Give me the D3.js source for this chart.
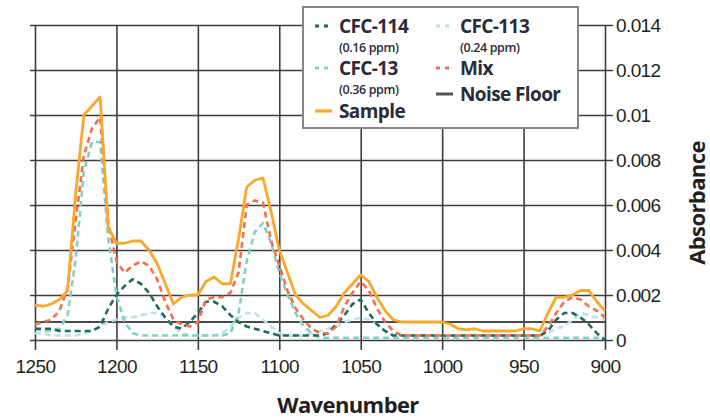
<!DOCTYPE html>
<html lang="en">
<head>
    <meta charset="UTF-8">
    <title>Absorbance vs Wavenumber</title>
    <script src="https://d3js.org/d3.v7.min.js"></script>
    <style>
        body { margin: 0; background: #fff; }
        svg { display: block; font-family: "Open Sans", sans-serif; }
        .grid line { stroke: #3d3d3d; stroke-width: 1.6px; }
        .grid path { display: none; }
        .labels path, .labels line { display: none; }
        .labels text { font-size: 19px; fill: #231f20; letter-spacing: -0.6px; }
        .legend text { fill: #2b2b3a; }
    </style>
</head>
<body>
    <svg id="chart" width="710" height="420"></svg>

    <script>
        // wavenumbers, every 5 from 1250 down to 900
        const wavenumbers = d3.range(1250, 899, -5);

        const sample = [0.00155, 0.0015, 0.0016, 0.0018, 0.0022, 0.0065, 0.0100, 0.0104, 0.0108, 0.0050,
            0.0043, 0.0043, 0.0044, 0.0044, 0.0040, 0.0034, 0.0025, 0.0016, 0.0019, 0.0020,
            0.0020, 0.0026, 0.0028, 0.0025, 0.0025, 0.0045, 0.0068, 0.0071, 0.0072, 0.0057,
            0.0040, 0.0030, 0.0020, 0.0016, 0.0013, 0.0010, 0.0011, 0.0015, 0.0021, 0.0025,
            0.0029, 0.0026, 0.0019, 0.0013, 0.0009, 0.0008, 0.0008, 0.0008, 0.0008, 0.0008,
            0.0008, 0.0007, 0.0005, 0.00045, 0.0005, 0.0004, 0.0004, 0.0004, 0.0004, 0.0004,
            0.0005, 0.0005, 0.0004, 0.0012, 0.0019, 0.0019, 0.0020, 0.0022, 0.0022, 0.0017, 0.0013];

        const mix = [0.0007, 0.0008, 0.0009, 0.0013, 0.0023, 0.0053, 0.0082, 0.0094, 0.0099, 0.0052,
            0.0035, 0.0030, 0.0033, 0.0035, 0.0033, 0.0027, 0.0017, 0.0009, 0.0007, 0.0006,
            0.0008, 0.0018, 0.0019, 0.0019, 0.0021, 0.0030, 0.0060, 0.0062, 0.0061, 0.0044,
            0.0033, 0.0022, 0.0014, 0.0009, 0.0005, 0.0003, 0.0003, 0.0006, 0.0015, 0.0021,
            0.0026, 0.0022, 0.0014, 0.0008, 0.0004, 0.0002, 0.0002, 0.0002, 0.0002, 0.0002,
            0.0002, 0.0002, 0.0002, 0.0002, 0.0002, 0.0002, 0.0002, 0.0002, 0.0002, 0.0002,
            0.0002, 0.0002, 0.0002, 0.0006, 0.0012, 0.0017, 0.0019, 0.0018, 0.0015, 0.0013, 0.0010];

        const cfc114 = [0.0005, 0.0005, 0.0005, 0.0004, 0.0004, 0.0004, 0.0004, 0.0004, 0.0006, 0.0014,
            0.0020, 0.0024, 0.0027, 0.0025, 0.0021, 0.0015, 0.0010, 0.0006, 0.0005, 0.0008,
            0.0012, 0.0017, 0.0017, 0.0015, 0.0011, 0.0008, 0.0006, 0.0005, 0.0004, 0.0003,
            0.0002, 0.0002, 0.0002, 0.0002, 0.0002, 0.0002, 0.0003, 0.0007, 0.0011, 0.0016,
            0.0018, 0.0012, 0.0007, 0.0004, 0.0002, 0.0002, 0.0002, 0.0002, 0.0002, 0.0002,
            0.0002, 0.0002, 0.0002, 0.0002, 0.0002, 0.0002, 0.0002, 0.0002, 0.0002, 0.0002,
            0.0002, 0.0002, 0.0002, 0.0004, 0.0009, 0.0012, 0.0012, 0.0010, 0.0007, 0.0003, 0.0000];

        const cfc13 = [0.0005, 0.0004, 0.0004, 0.0005, 0.0011, 0.0036, 0.0075, 0.0088, 0.0088, 0.0045,
            0.0020, 0.0008, 0.0003, 0.0002, 0.0002, 0.0002, 0.0002, 0.0002, 0.0002, 0.0002,
            0.0002, 0.0002, 0.0002, 0.0002, 0.0003, 0.0012, 0.0035, 0.0048, 0.0052, 0.0043,
            0.0030, 0.0020, 0.0012, 0.0006, 0.0003, 0.0001, 0.0001, 0.0001, 0.0001, 0.0001,
            0.0001, 0.0001, 0.0001, 0.0001, 0.0001, 0.0001, 0.0001, 0.0001, 0.0001, 0.0001,
            0.0001, 0.0001, 0.0001, 0.0001, 0.0001, 0.0001, 0.0001, 0.0001, 0.0001, 0.0001,
            0.0001, 0.0001, 0.0001, 0.0001, 0.0001, 0.0001, 0.0001, 0.0001, 0.0001, 0.0001, 0.0001];

        const cfc113 = [0.0003, 0.0003, 0.0002, 0.0002, 0.0002, 0.0002, 0.0003, 0.0004, 0.0006, 0.0008,
            0.0009, 0.0010, 0.0010, 0.0011, 0.0012, 0.0012, 0.0010, 0.0006, 0.0003, 0.0002,
            0.0002, 0.0002, 0.0002, 0.0003, 0.0006, 0.0010, 0.0012, 0.0012, 0.0009, 0.0006,
            0.0003, 0.0002, 0.0002, 0.0002, 0.0003, 0.0004, 0.0005, 0.0006, 0.0008, 0.0009,
            0.0010, 0.0009, 0.0007, 0.0004, 0.0002, 0.0002, 0.0002, 0.0002, 0.0002, 0.0002,
            0.0002, 0.0002, 0.0002, 0.0002, 0.0002, 0.0002, 0.0002, 0.0002, 0.0002, 0.0002,
            0.0002, 0.0002, 0.0002, 0.0003, 0.0005, 0.0006, 0.0009, 0.0012, 0.0011, 0.0010, 0.0009];

        const noiseFloor = 0.0008;

        const xTicks = [1250, 1200, 1150, 1100, 1050, 1000, 950, 900];
        const yTicks = [0, 0.002, 0.004, 0.006, 0.008, 0.01, 0.012, 0.014];

        const series = [
            {name: "CFC-113", sub: "(0.24 ppm)", values: cfc113, color: "#b9e2ea", dash: "6,4", w: 2.6},
            {name: "CFC-13", sub: "(0.36 ppm)", values: cfc13, color: "#80d1c5", dash: "6,4", w: 2.6},
            {name: "CFC-114", sub: "(0.16 ppm)", values: cfc114, color: "#1f6b5c", dash: "6,4", w: 2.6},
            {name: "Mix", sub: null, values: mix, color: "#f3704e", dash: "6,4", w: 2.6},
            {name: "Sample", sub: null, values: sample, color: "#f9a82b", dash: null, w: 2.8}
        ];

        const svg = d3.select("#chart");
        const plotLeft = 35, plotRight = 605, plotTop = 25, plotBottom = 340;

        const x = d3.scaleLinear().domain([1250, 900]).range([plotLeft, plotRight]);
        const y = d3.scaleLinear().domain([0, 0.014]).range([plotBottom, plotTop]);

        // horizontal grid (with small stubs both sides)
        svg.append("g")
            .attr("class", "grid")
            .attr("transform", `translate(${plotLeft - 5},0)`)
            .call(d3.axisLeft(y).tickValues(yTicks).tickSize(-(plotRight - plotLeft + 13)).tickFormat(""));

        // vertical grid (with tick stubs below)
        svg.append("g")
            .attr("class", "grid")
            .attr("transform", `translate(0,${plotBottom + 10})`)
            .call(d3.axisBottom(x).tickValues(xTicks).tickSize(-(plotBottom + 10 - plotTop)).tickFormat(""));

        // noise floor
        svg.append("line")
            .attr("x1", x(1250)).attr("x2", x(900))
            .attr("y1", y(noiseFloor)).attr("y2", y(noiseFloor))
            .attr("stroke", "#4a4a4a")
            .attr("stroke-width", 1.8);

        const line = d3.line()
            .x((d, i) => x(wavenumbers[i]))
            .y(d => y(d));

        series.forEach(s => {
            svg.append("path")
                .datum(s.values)
                .attr("fill", "none")
                .attr("stroke", s.color)
                .attr("stroke-width", s.w)
                .attr("stroke-dasharray", s.dash)
                .attr("stroke-linejoin", "round")
                .attr("d", line);
        });

        // tick labels
        svg.append("g")
            .attr("class", "labels")
            .attr("transform", `translate(${plotRight},0)`)
            .call(d3.axisRight(y).tickValues(yTicks).tickSize(0).tickPadding(11)
                .tickFormat(d => d === 0 ? "0" : String(+d.toFixed(3))));

        svg.append("g")
            .attr("class", "labels")
            .attr("transform", `translate(0,${plotBottom})`)
            .call(d3.axisBottom(x).tickValues(xTicks).tickSize(0).tickPadding(20).tickFormat(d3.format("d")));

        svg.append("text")
            .attr("x", 348)
            .attr("y", 413)
            .attr("text-anchor", "middle")
            .attr("font-size", 22)
            .attr("font-weight", "bold")
            .attr("fill", "#231f20")
            .attr("letter-spacing", -0.6)
            .text("Wavenumber");

        svg.append("text")
            .attr("transform", "translate(705,203) rotate(-90)")
            .attr("text-anchor", "middle")
            .attr("font-size", 22)
            .attr("font-weight", "bold")
            .attr("fill", "#231f20")
            .attr("letter-spacing", -0.6)
            .text("Absorbance");

        // legend
        const legend = svg.append("g").attr("class", "legend");
        legend.append("rect")
            .attr("x", 303).attr("y", 7)
            .attr("width", 275).attr("height", 121)
            .attr("fill", "#fff")
            .attr("stroke", "#858585")
            .attr("stroke-width", 2);

        const legendItems = [
            {s: series[2], lx: 315, ly: 33},
            {s: series[0], lx: 436, ly: 33},
            {s: series[1], lx: 315, ly: 75},
            {s: series[3], lx: 436, ly: 75},
            {s: {name: "Noise Floor", sub: null, color: "#555", dash: null, w: 2.6}, lx: 436, ly: 101},
            {s: series[4], lx: 315, ly: 118}
        ];

        legendItems.forEach(item => {
            const g = legend.append("g");
            g.append("line")
                .attr("x1", item.lx).attr("x2", item.lx + 17)
                .attr("y1", item.ly - 7).attr("y2", item.ly - 7)
                .attr("stroke", item.s.color)
                .attr("stroke-width", item.s.w + 0.4)
                .attr("stroke-dasharray", item.s.dash ? "4,5" : null);
            g.append("text")
                .attr("x", item.lx + 24)
                .attr("y", item.ly)
                .attr("font-size", 19)
                .attr("font-weight", "bold")
                .attr("letter-spacing", -0.6)
                .text(item.s.name);
            if (item.s.sub) {
                g.append("text")
                    .attr("x", item.lx + 24)
                    .attr("y", item.ly + 19)
                    .attr("font-size", 12.5)
                    .attr("font-weight", 600)
                    .attr("letter-spacing", -0.4)
                    .text(item.s.sub);
            }
        });
    </script>
</body>
</html>
